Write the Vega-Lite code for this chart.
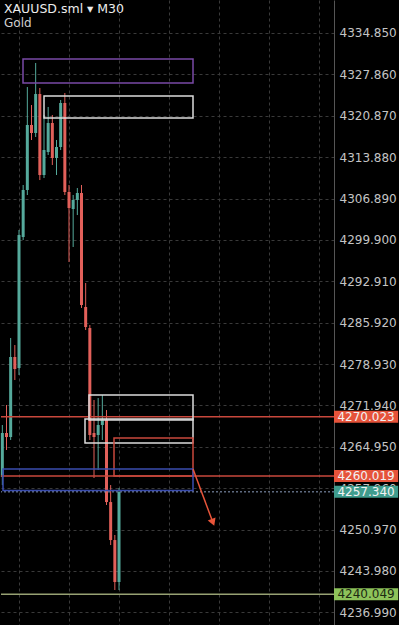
{
  "$schema": "https://vega.github.io/schema/vega-lite/v6.json",
  "width": 333,
  "height": 625,
  "padding": 0,
  "background": "#000000",
  "config": {"view": {"stroke": null}},
  "title": {
    "text": "XAUUSD.sml ▾ M30",
    "subtitle": "Gold",
    "anchor": "start",
    "frame": "group",
    "offset": -29,
    "dx": 3,
    "font": "DejaVu Sans",
    "fontSize": 12.5,
    "fontWeight": "normal",
    "color": "#ececec",
    "subtitleFont": "DejaVu Sans",
    "subtitleFontSize": 12,
    "subtitleColor": "#d0d0d0",
    "subtitlePadding": 3
  },
  "datasets": {
    "candles": [
      {"i": 0, "open": 4259.85, "high": 4268.63, "low": 4258.49, "close": 4267.28, "dir": "up"},
      {"i": 1, "open": 4267.28, "high": 4272.01, "low": 4264.41, "close": 4266.60, "dir": "down"},
      {"i": 2, "open": 4266.60, "high": 4283.33, "low": 4266.10, "close": 4280.12, "dir": "up"},
      {"i": 3, "open": 4280.12, "high": 4282.14, "low": 4276.23, "close": 4278.09, "dir": "down"},
      {"i": 4, "open": 4278.26, "high": 4301.57, "low": 4277.08, "close": 4300.72, "dir": "up"},
      {"i": 5, "open": 4300.39, "high": 4309.17, "low": 4299.88, "close": 4308.33, "dir": "up"},
      {"i": 6, "open": 4308.33, "high": 4325.72, "low": 4307.48, "close": 4319.31, "dir": "up"},
      {"i": 7, "open": 4319.31, "high": 4322.68, "low": 4316.77, "close": 4317.95, "dir": "down"},
      {"i": 8, "open": 4317.95, "high": 4329.78, "low": 4317.28, "close": 4324.54, "dir": "up"},
      {"i": 9, "open": 4324.54, "high": 4325.56, "low": 4310.01, "close": 4310.86, "dir": "down"},
      {"i": 10, "open": 4310.86, "high": 4320.99, "low": 4310.35, "close": 4315.08, "dir": "up"},
      {"i": 11, "open": 4314.74, "high": 4322.35, "low": 4314.24, "close": 4319.64, "dir": "up"},
      {"i": 12, "open": 4319.64, "high": 4320.99, "low": 4312.55, "close": 4313.73, "dir": "down"},
      {"i": 13, "open": 4313.73, "high": 4316.77, "low": 4310.86, "close": 4315.59, "dir": "up"},
      {"i": 14, "open": 4315.59, "high": 4323.53, "low": 4315.08, "close": 4323.02, "dir": "up"},
      {"i": 15, "open": 4323.02, "high": 4324.71, "low": 4307.48, "close": 4307.99, "dir": "down"},
      {"i": 16, "open": 4307.99, "high": 4309.17, "low": 4296.16, "close": 4305.28, "dir": "down"},
      {"i": 17, "open": 4305.12, "high": 4307.48, "low": 4298.70, "close": 4306.64, "dir": "up"},
      {"i": 18, "open": 4306.64, "high": 4308.66, "low": 4304.10, "close": 4307.82, "dir": "up"},
      {"i": 19, "open": 4307.82, "high": 4309.17, "low": 4288.40, "close": 4288.90, "dir": "down"},
      {"i": 20, "open": 4288.56, "high": 4292.62, "low": 4284.68, "close": 4285.18, "dir": "down"},
      {"i": 21, "open": 4285.01, "high": 4285.52, "low": 4266.10, "close": 4266.94, "dir": "down"},
      {"i": 22, "open": 4267.28, "high": 4272.85, "low": 4259.68, "close": 4266.60, "dir": "down"},
      {"i": 23, "open": 4266.94, "high": 4273.19, "low": 4261.03, "close": 4268.63, "dir": "up"},
      {"i": 24, "open": 4268.63, "high": 4273.70, "low": 4266.10, "close": 4269.47, "dir": "up"},
      {"i": 25, "open": 4269.47, "high": 4271.16, "low": 4255.12, "close": 4255.62, "dir": "down"},
      {"i": 26, "open": 4255.62, "high": 4258.49, "low": 4248.36, "close": 4249.20, "dir": "down"},
      {"i": 27, "open": 4249.20, "high": 4250.05, "low": 4240.76, "close": 4242.11, "dir": "down"},
      {"i": 28, "open": 4242.11, "high": 4257.99, "low": 4240.76, "close": 4257.31, "dir": "up"}
    ],
    "zones": [
      {"zone": "purple", "x1": 4.96, "x2": 45.76, "p1": 4326.40, "p2": 4330.45},
      {"zone": "white", "x1": 10.0, "x2": 45.76, "p1": 4320.49, "p2": 4324.20},
      {"zone": "white", "x1": 20.8, "x2": 45.76, "p1": 4269.47, "p2": 4273.70},
      {"zone": "white", "x1": 19.84, "x2": 45.76, "p1": 4265.59, "p2": 4269.64},
      {"zone": "red", "x1": 26.8, "x2": 45.76, "p1": 4260.02, "p2": 4266.43},
      {"zone": "blue", "x1": 0.16, "x2": 45.76, "p1": 4257.55, "p2": 4261.20}
    ],
    "levels": [
      {"kind": "red", "price": 4270.023},
      {"kind": "red", "price": 4260.019},
      {"kind": "bid", "price": 4257.34},
      {"kind": "green", "price": 4240.049}
    ],
    "arrow": [
      {"x1": 45.76, "p1": 4261.2, "x2": 50.44, "p2": 4252.36}
    ]
  },
  "layer": [
    {
      "data": {"name": "candles"},
      "mark": {"type": "rule", "strokeWidth": 1},
      "encoding": {
        "x": {
          "field": "i", "type": "quantitative",
          "scale": {"domain": [-0.32, 79.6], "nice": false, "zero": false, "padding": 0},
          "axis": {"orient": "bottom", "labels": false, "ticks": false, "domain": false, "title": null,
                   "grid": true, "values": [4, 16, 28, 40, 52, 64, 76],
                   "gridColor": "#3a3a3a", "gridDash": [3, 3], "gridWidth": 1}
        },
        "y": {
          "field": "low", "type": "quantitative",
          "scale": {"domain": [4234.85, 4340.42], "nice": false, "zero": false, "padding": 0},
          "axis": {"orient": "right", "title": null, "format": ".3f",
                   "values": [4334.85, 4327.86, 4320.87, 4313.88, 4306.89, 4299.90, 4292.91, 4285.92, 4278.93, 4271.94, 4264.95, 4257.96, 4250.97, 4243.98, 4236.99],
                   "ticks": false, "domain": true, "domainColor": "#555555", "domainWidth": 1,
                   "labelColor": "#c4c4c4", "labelFont": "DejaVu Sans", "labelFontSize": 12,
                   "labelPadding": 5, "labelOverlap": false, "labelBaseline": "middle",
                   "grid": true, "gridColor": "#3a3a3a", "gridDash": [3, 3], "gridWidth": 1}
        },
        "y2": {"field": "high"},
        "color": {"field": "dir", "type": "nominal", "scale": {"domain": ["up", "down"], "range": ["#55aa9c", "#e2605a"]}, "legend": null}
      }
    },
    {
      "data": {"name": "candles"},
      "mark": {"type": "bar", "size": 3},
      "encoding": {
        "x": {"field": "i", "type": "quantitative"},
        "y": {"field": "open", "type": "quantitative"},
        "y2": {"field": "close"},
        "color": {"field": "dir", "type": "nominal", "legend": null}
      }
    },
    {
      "data": {"name": "levels"},
      "transform": [{"filter": "datum.kind === 'red'"}],
      "mark": {"type": "rule", "color": "#c9483c", "strokeWidth": 1.5},
      "encoding": {"y": {"field": "price", "type": "quantitative"}}
    },
    {
      "data": {"name": "levels"},
      "transform": [{"filter": "datum.kind === 'green'"}],
      "mark": {"type": "rule", "color": "#97a173", "strokeWidth": 1.5},
      "encoding": {"y": {"field": "price", "type": "quantitative"}}
    },
    {
      "data": {"name": "levels"},
      "transform": [{"filter": "datum.kind === 'bid'"}],
      "mark": {"type": "rule", "color": "#8fa0c0", "strokeWidth": 1, "strokeDash": [2, 2]},
      "encoding": {"y": {"field": "price", "type": "quantitative"}}
    },
    {
      "data": {"name": "zones"},
      "transform": [{"filter": "datum.zone === 'purple'"}],
      "mark": {"type": "rect", "fillOpacity": 0, "stroke": "#7a4aa6", "strokeWidth": 1.5},
      "encoding": {
        "x": {"field": "x1", "type": "quantitative"}, "x2": {"field": "x2"},
        "y": {"field": "p1", "type": "quantitative"}, "y2": {"field": "p2"}
      }
    },
    {
      "data": {"name": "zones"},
      "transform": [{"filter": "datum.zone === 'white'"}],
      "mark": {"type": "rect", "fillOpacity": 0, "stroke": "#dcdcdc", "strokeWidth": 1.5},
      "encoding": {
        "x": {"field": "x1", "type": "quantitative"}, "x2": {"field": "x2"},
        "y": {"field": "p1", "type": "quantitative"}, "y2": {"field": "p2"}
      }
    },
    {
      "data": {"name": "zones"},
      "transform": [{"filter": "datum.zone === 'red'"}],
      "mark": {"type": "rect", "fillOpacity": 0, "stroke": "#c9483c", "strokeWidth": 1.5},
      "encoding": {
        "x": {"field": "x1", "type": "quantitative"}, "x2": {"field": "x2"},
        "y": {"field": "p1", "type": "quantitative"}, "y2": {"field": "p2"}
      }
    },
    {
      "data": {"name": "zones"},
      "transform": [{"filter": "datum.zone === 'blue'"}],
      "mark": {"type": "rect", "fillOpacity": 0, "stroke": "#3a4cae", "strokeWidth": 1.5},
      "encoding": {
        "x": {"field": "x1", "type": "quantitative"}, "x2": {"field": "x2"},
        "y": {"field": "p1", "type": "quantitative"}, "y2": {"field": "p2"}
      }
    },
    {
      "data": {"name": "arrow"},
      "mark": {"type": "rule", "color": "#e8553a", "strokeWidth": 1.5},
      "encoding": {
        "x": {"field": "x1", "type": "quantitative"}, "x2": {"field": "x2"},
        "y": {"field": "p1", "type": "quantitative"}, "y2": {"field": "p2"}
      }
    },
    {
      "data": {"name": "arrow"},
      "mark": {"type": "point", "shape": "triangle", "filled": true, "color": "#e8553a", "size": 70, "angle": 159, "opacity": 1},
      "encoding": {
        "x": {"field": "x2", "type": "quantitative"},
        "y": {"field": "p2", "type": "quantitative"}
      }
    },
    {
      "data": {"name": "levels"},
      "mark": {"type": "bar", "orient": "horizontal", "size": 12, "clip": false},
      "encoding": {
        "y": {"field": "price", "type": "quantitative"},
        "x": {"datum": 79.6, "type": "quantitative"},
        "x2": {"datum": 95.0},
        "fill": {"field": "kind", "type": "nominal", "scale": {"domain": ["red", "bid", "green"], "range": ["#e6533a", "#3f9c8d", "#8dc35a"]}, "legend": null}
      }
    },
    {
      "data": {"name": "levels"},
      "transform": [{"filter": "datum.kind !== 'green'"}],
      "mark": {"type": "text", "font": "DejaVu Sans", "fontSize": 12, "align": "center", "baseline": "middle", "color": "#f2f2f2"},
      "encoding": {
        "y": {"field": "price", "type": "quantitative"},
        "x": {"datum": 87.3, "type": "quantitative"},
        "text": {"field": "price", "type": "quantitative", "format": ".3f"}
      }
    },
    {
      "data": {"name": "levels"},
      "transform": [{"filter": "datum.kind === 'green'"}],
      "mark": {"type": "text", "font": "DejaVu Sans", "fontSize": 12, "align": "center", "baseline": "middle", "color": "#1c2a12"},
      "encoding": {
        "y": {"field": "price", "type": "quantitative"},
        "x": {"datum": 87.3, "type": "quantitative"},
        "text": {"field": "price", "type": "quantitative", "format": ".3f"}
      }
    }
  ]
}
